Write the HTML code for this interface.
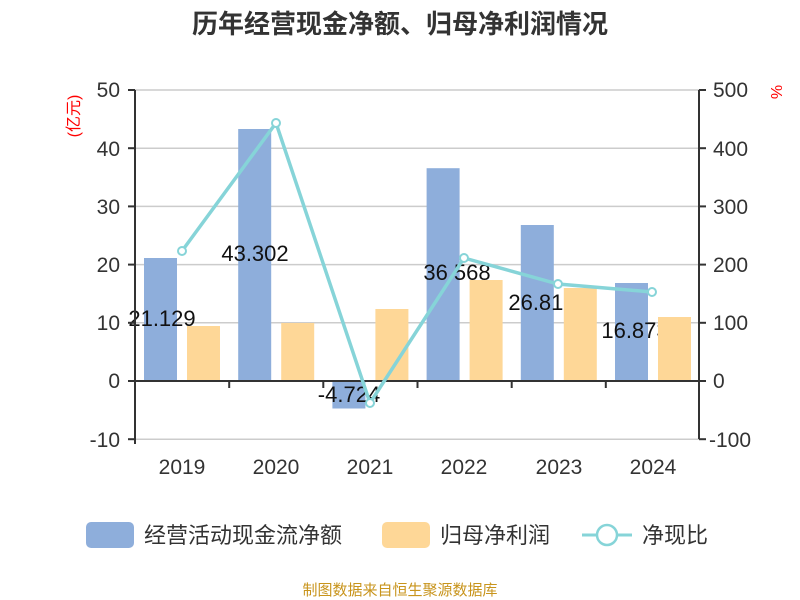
<!DOCTYPE html><html><head><meta charset="utf-8"><style>body{margin:0;background:#fff}svg{display:block}text{font-family:"Liberation Sans","Noto Sans CJK SC",sans-serif}</style></head><body>
<svg width="800" height="600" xmlns="http://www.w3.org/2000/svg">
<text x="400" y="33" text-anchor="middle" font-size="26" font-weight="bold" fill="#333">历年经营现金净额、归母净利润情况</text>
<g stroke="#ccc" stroke-width="1.5">
<line x1="135" y1="90" x2="699" y2="90"/><line x1="135" y1="148.2" x2="699" y2="148.2"/><line x1="135" y1="206.4" x2="699" y2="206.4"/><line x1="135" y1="264.6" x2="699" y2="264.6"/><line x1="135" y1="322.8" x2="699" y2="322.8"/><line x1="135" y1="439.2" x2="699" y2="439.2"/>
</g>
<g fill="#333" font-size="21" text-anchor="end">
<text x="120" y="97">50</text><text x="120" y="156">40</text><text x="120" y="214">30</text><text x="120" y="272">20</text><text x="120" y="330">10</text><text x="120" y="388">0</text><text x="120" y="447">-10</text>
</g>
<g fill="#333" font-size="21">
<text x="713" y="97">500</text><text x="713" y="156">400</text><text x="713" y="214">300</text><text x="713" y="272">200</text><text x="713" y="330">100</text><text x="713" y="388">0</text><text x="709" y="447">-100</text>
</g>
<text transform="translate(79,116) rotate(-90)" text-anchor="middle" font-size="16" fill="red">(亿元)</text>
<text transform="translate(771,92) rotate(90)" text-anchor="middle" font-size="16" fill="red">%</text>
<g fill="#8eaedb">
<rect x="144" y="258" width="33" height="123"/><rect x="238.2" y="129" width="33" height="252"/><rect x="332.4" y="381" width="33" height="27.5"/><rect x="426.6" y="168.2" width="33" height="212.8"/><rect x="520.8" y="225" width="33" height="156"/><rect x="615" y="283" width="33" height="98"/>
</g>
<g fill="#111" font-size="22" text-anchor="middle">
<text x="162" y="326">21.129</text><text x="255" y="261">43.302</text><text x="349" y="402">-4.724</text><text x="457" y="280">36.568</text><text x="542" y="310">26.816</text><text x="635" y="338">16.873</text>
</g>
<g fill="#fed797">
<rect x="187" y="326" width="33" height="55"/><rect x="281.2" y="323" width="33" height="58"/><rect x="375.4" y="309" width="33" height="72"/><rect x="469.6" y="280" width="33" height="101"/><rect x="563.8" y="288" width="33" height="93"/><rect x="658" y="317" width="33" height="64"/>
</g>
<g stroke="#333" stroke-width="2">
<line x1="135" y1="90" x2="135" y2="444"/><line x1="699" y1="90" x2="699" y2="439"/>
<line x1="135" y1="381" x2="699" y2="381"/>
<line x1="128" y1="90" x2="135" y2="90"/><line x1="128" y1="148.2" x2="135" y2="148.2"/><line x1="128" y1="206.4" x2="135" y2="206.4"/><line x1="128" y1="264.6" x2="135" y2="264.6"/><line x1="128" y1="322.8" x2="135" y2="322.8"/><line x1="128" y1="381" x2="135" y2="381"/><line x1="128" y1="439.2" x2="135" y2="439.2"/>
<line x1="699" y1="90" x2="706" y2="90"/><line x1="699" y1="148.2" x2="706" y2="148.2"/><line x1="699" y1="206.4" x2="706" y2="206.4"/><line x1="699" y1="264.6" x2="706" y2="264.6"/><line x1="699" y1="322.8" x2="706" y2="322.8"/><line x1="699" y1="381" x2="706" y2="381"/><line x1="699" y1="439.2" x2="706" y2="439.2"/>
<line x1="229.2" y1="381" x2="229.2" y2="388"/><line x1="323.3" y1="381" x2="323.3" y2="388"/><line x1="417.5" y1="381" x2="417.5" y2="388"/><line x1="511.7" y1="381" x2="511.7" y2="388"/><line x1="605.8" y1="381" x2="605.8" y2="388"/>
</g>
<g fill="#333" font-size="21" text-anchor="middle">
<text x="182" y="474">2019</text><text x="276" y="474">2020</text><text x="370" y="474">2021</text><text x="464" y="474">2022</text><text x="559" y="474">2023</text><text x="653" y="474">2024</text>
</g>
<polyline points="182,251 276,123 370,403 464,258 558,284 652,292" fill="none" stroke="#86d4d8" stroke-width="3.5"/>
<g fill="#fff" stroke="#86d4d8" stroke-width="2">
<circle cx="182" cy="251" r="4"/><circle cx="276" cy="123" r="4"/><circle cx="370" cy="403" r="4"/><circle cx="464" cy="258" r="4"/><circle cx="558" cy="284" r="4"/><circle cx="652" cy="292" r="4"/>
</g>
<rect x="86" y="522" width="48" height="26" rx="5" fill="#8eaedb"/>
<text x="144" y="543" font-size="22" fill="#333">经营活动现金流净额</text>
<rect x="382" y="522" width="48" height="26" rx="5" fill="#fed797"/>
<text x="440" y="543" font-size="22" fill="#333">归母净利润</text>
<line x1="582" y1="535" x2="632" y2="535" stroke="#86d4d8" stroke-width="3"/>
<circle cx="607" cy="535" r="10" fill="#fff" stroke="#86d4d8" stroke-width="2.5"/>
<text x="642" y="543" font-size="22" fill="#333">净现比</text>
<text x="400" y="595" text-anchor="middle" font-size="15" fill="#c8941c">制图数据来自恒生聚源数据库</text>
</svg>
</body></html>
